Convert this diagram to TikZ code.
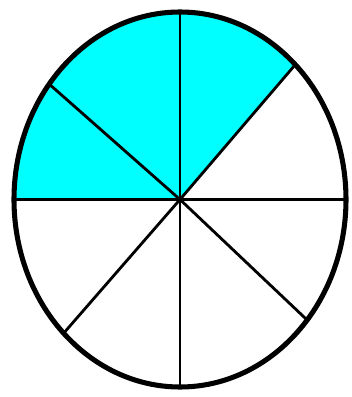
\documentclass[tikz,border=0pt]{standalone}
\usetikzlibrary{calc}
\definecolor{aqua}{RGB}{0,255,255}
\tikzset{
    rim/.style={draw=black,line width=3.6pt},
    spoke/.style={draw=black,line width=2pt},
    part/.style={fill=aqua},
}
\begin{document}
\begin{tikzpicture}[x=0.025cm,y=0.025cm]
\useasboundingbox (0,0) rectangle (352,397);
\coordinate (hub) at (180,197.5);
\fill[part] (hub) -- ($(hub)+(46:166 and 187.5)$) arc[start angle=46,end angle=180,x radius=166,y radius=187.5] -- cycle;
\foreach \a [count=\i] in {46,90,142,180,225.5,270,320,0}{
    \coordinate (end_\i) at ($(hub)+(\a:166 and 187.5)$);
    \draw[spoke] (hub) -- (end_\i);
}
\draw[rim] (hub) ellipse[x radius=166,y radius=187.5];
\end{tikzpicture}
\end{document}
